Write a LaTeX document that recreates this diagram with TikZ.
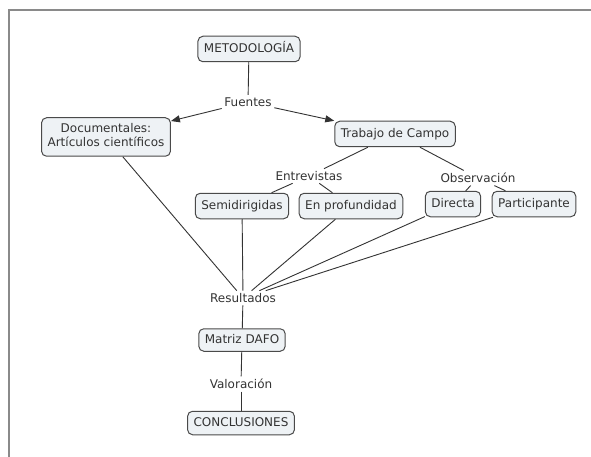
\documentclass[tikz,border=0pt]{standalone}
\usepackage{fontspec}
\setmainfont{DejaVu Sans}
\usetikzlibrary{arrows.meta}
\definecolor{boxfill}{HTML}{EEF2F5}
\definecolor{boxline}{HTML}{4A4A4A}
\definecolor{linkline}{HTML}{333333}
\definecolor{framegray}{HTML}{8A8A8A}
\begin{document}
\begin{tikzpicture}[x=1pt,y=-1pt,
  concept/.style={draw=boxline, line width=1pt, fill=boxfill, rounded corners=5pt,
    font=\fontsize{12}{14}\selectfont, text=black!80, inner xsep=6pt, inner ysep=6.5pt,
    text height=9.5pt, text depth=3pt, align=center},
  linkword/.style={font=\fontsize{12}{14}\selectfont, text=black!80, inner sep=2.5pt},
  link/.style={draw=linkline, line width=0.9pt},
  arrowlink/.style={link, -{Triangle[length=9pt,width=7pt]}}]
\useasboundingbox (0,0) rectangle (591,457);
\fill[white] (0,0) rectangle (591,457);
% frame of the canvas
\draw[framegray, line width=1.3pt] (9,457) -- (9,10) -- (591,10);

% concepts
\node[concept] (met) at (249,49) {METODOLOGÍA};
\node[concept, text height=22.5pt] (doc) at (106,137) {Documentales:\\Artículos científicos};
\node[concept] (tra) at (395,134) {Trabajo de Campo};
\node[concept] (sem) at (242,206) {Semidirigidas};
\node[concept] (pro) at (351,206) {En profundidad};
\node[concept] (dir) at (453,204) {Directa};
\node[concept] (par) at (534,204) {Participante};
\node[concept, inner ysep=5pt] (daf) at (242,340) {Matriz DAFO};
\node[concept, inner ysep=5.5pt] (con) at (241,423) {CONCLUSIONES};

% linking words
\node[linkword] (fue) at (248,102) {Fuentes};
\node[linkword] (ent) at (309,176) {Entrevistas};
\node[linkword] (obs) at (478,178) {Observación};
\node[linkword] (res) at (243,298) {Resultados};
\node[linkword] (val) at (241,384) {Valoración};

% connections
\draw[link] (met) -- (fue);
\draw[arrowlink] (fue) -- (doc);
\draw[arrowlink] (fue) -- (tra);
\draw[link] (tra) -- (ent);
\draw[link] (tra) -- (obs);
\draw[link] (ent) -- (sem);
\draw[link] (ent) -- (pro);
\draw[link] (obs) -- (dir);
\draw[link] (obs) -- (par);
\draw[link] (doc) -- (res);
\draw[link] (sem) -- (res);
\draw[link] (pro) -- (res);
\draw[link] (dir) -- (res);
\draw[link] (par) -- (res);
\draw[link] (res) -- (daf);
\draw[link] (daf) -- (val);
\draw[link] (val) -- (con);
\end{tikzpicture}
\end{document}
